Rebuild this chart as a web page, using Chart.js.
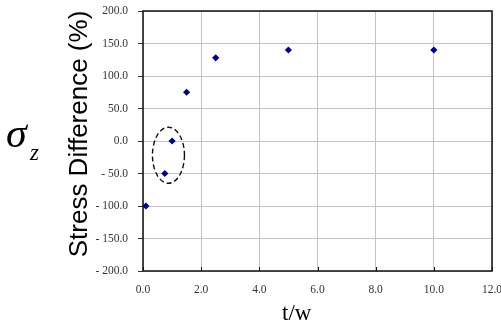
<!DOCTYPE html>
<html>
<head>
<meta charset="utf-8">
<script src="https://cdn.jsdelivr.net/npm/chart.js@4/dist/chart.umd.min.js"></script>
<style>
  html, body { margin: 0; padding: 0; background: #fff; }
  #wrap { width: 501px; height: 333px; position: relative; }
</style>
</head>
<body>
<div id="wrap"><canvas id="chart"></canvas></div>
<script>
// data
const tw = [0.1, 0.75, 1.0, 1.5, 2.5, 5.0, 10.0];
const stressDiff = [-100, -50, 0, 75, 128, 140, 140];
const circled = [1, 2];          // points inside the dashed ellipse
const xTicks = [0, 2, 4, 6, 8, 10, 12];
const yTicks = [-200, -150, -100, -50, 0, 50, 100, 150, 200];

const serif = "'Liberation Serif', 'Times New Roman', serif";
const sans = "'Liberation Sans', Arial, sans-serif";

function fmtY(v) {
  return v < 0 ? '- ' + Math.abs(v).toFixed(1) : v.toFixed(1);
}

// box, inner x tick marks, ellipse and the free text labels
const decor = {
  id: 'decor',
  beforeDatasetsDraw(chart) {
    const { ctx, chartArea: a, scales } = chart;
    ctx.save();
    ctx.strokeStyle = '#111';
    ctx.lineWidth = 1.5;
    ctx.strokeRect(a.left, a.top, a.right - a.left, a.bottom - a.top);
    ctx.lineWidth = 1;
    xTicks.forEach(t => {
      const px = Math.round(scales.x.getPixelForValue(t)) + 0.5;
      ctx.beginPath();
      ctx.moveTo(px, a.bottom);
      ctx.lineTo(px, a.bottom - 4);
      ctx.stroke();
    });
    ctx.restore();
  },
  afterDraw(chart) {
    const { ctx, scales } = chart;
    ctx.save();
    // dashed ellipse round the circled points
    const px = circled.map(i => scales.x.getPixelForValue(tw[i]));
    const py = circled.map(i => scales.y.getPixelForValue(stressDiff[i]));
    const cx = (px[0] + px[1]) / 2;
    const cy = (py[0] + py[1]) / 2 - 2;
    ctx.strokeStyle = '#111';
    ctx.lineWidth = 1.4;
    ctx.setLineDash([5, 3]);
    ctx.beginPath();
    ctx.ellipse(cx, cy, 16, 28, 0, 0, Math.PI * 2);
    ctx.stroke();
    ctx.setLineDash([]);

    ctx.fillStyle = '#000';
    // sigma_z
    ctx.textBaseline = 'alphabetic';
    ctx.textAlign = 'left';
    ctx.font = 'italic 42px ' + serif;
    ctx.fillText('\u03c3', 6, 147);
    ctx.font = 'italic 23px ' + serif;
    ctx.fillText('z', 30, 160);

    // y title
    ctx.save();
    ctx.translate(87, 134);
    ctx.rotate(-Math.PI / 2);
    ctx.textAlign = 'center';
    ctx.font = '26px ' + sans;
    ctx.fillText('Stress Difference (%)', 0, 0);
    ctx.restore();

    // x title
    ctx.font = '23px ' + serif;
    ctx.fillText('t/w', 282, 320);
    ctx.restore();
  }
};

new Chart(document.getElementById('chart'), {
  type: 'scatter',
  data: {
    datasets: [{
      data: tw.map((x, i) => ({ x: x, y: stressDiff[i] })),
      pointStyle: 'rectRot',
      pointRadius: 3.6,
      pointHoverRadius: 3.6,
      backgroundColor: '#000080',
      borderColor: '#000080',
      borderWidth: 0,
      clip: false
    }]
  },
  options: {
    responsive: true,
    maintainAspectRatio: false,
    animation: false,
    layout: { padding: { top: 11, right: 9, left: 0, bottom: 0 } },
    plugins: { legend: { display: false }, tooltip: { enabled: false } },
    scales: {
      x: {
        type: 'linear',
        min: 0, max: 12,
        afterFit(s) { s.height = 62; s.paddingLeft = 0; s.paddingRight = 0; },
        afterBuildTicks(s) { s.ticks = xTicks.map(v => ({ value: v })); },
        border: { display: false },
        grid: { color: '#c4c4c4', lineWidth: 1, drawTicks: false },
        ticks: {
          padding: 12,
          color: '#333',
          font: { family: serif, size: 11.5 },
          maxRotation: 0,
          callback: v => v.toFixed(1)
        }
      },
      y: {
        type: 'linear',
        min: -200, max: 200,
        afterFit(s) { s.width = 143; s.paddingTop = 0; s.paddingBottom = 0; },
        afterBuildTicks(s) { s.ticks = yTicks.map(v => ({ value: v })); },
        border: { display: false },
        grid: { color: '#c4c4c4', lineWidth: 1, drawTicks: true, tickLength: 5, tickColor: '#333' },
        ticks: {
          padding: 10,
          color: '#333',
          font: { family: serif, size: 11.5 },
          callback: v => fmtY(v)
        }
      }
    }
  },
  plugins: [decor]
});
</script>
</body>
</html>
